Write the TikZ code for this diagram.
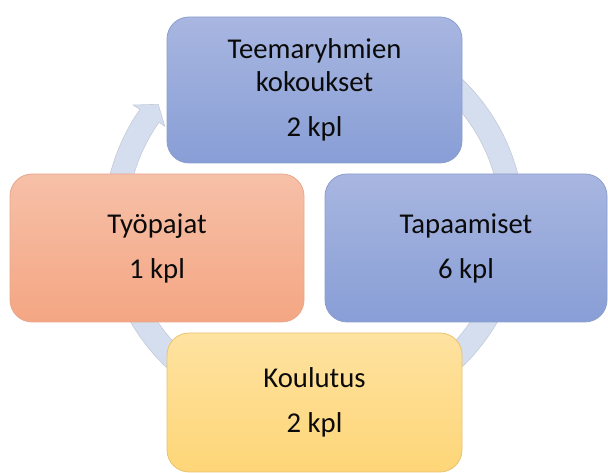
\documentclass[tikz,border=0pt]{standalone}
\usepackage{fontspec}
\setmainfont{Carlito}
\usetikzlibrary{calc}
\definecolor{ringfill}{RGB}{212,222,239}
\definecolor{ringline}{RGB}{196,203,216}
\definecolor{bluetop}{RGB}{168,182,224}
\definecolor{bluebot}{RGB}{136,158,214}
\definecolor{blueline}{RGB}{140,158,205}
\definecolor{salmontop}{RGB}{246,192,168}
\definecolor{salmonbot}{RGB}{244,166,131}
\definecolor{salmonline}{RGB}{230,168,142}
\definecolor{yellowtop}{RGB}{254,226,160}
\definecolor{yellowbot}{RGB}{254,214,120}
\definecolor{yellowline}{RGB}{232,196,110}
\definecolor{txt}{RGB}{10,10,10}
\tikzset{
  cyclebox/.style={rectangle, rounded corners=22pt, line width=0.8pt,
    align=center, text=txt, inner sep=0pt,
    font=\fontsize{28.7}{33}\selectfont},
  bluebox/.style={cyclebox, draw=blueline, top color=bluetop, bottom color=bluebot},
  salmonbox/.style={cyclebox, draw=salmonline, top color=salmontop, bottom color=salmonbot},
  yellowbox/.style={cyclebox, draw=yellowline, top color=yellowtop, bottom color=yellowbot},
  ring/.style={fill=ringfill, draw=ringline, line width=0.6pt}
}
\begin{document}
\begin{tikzpicture}[x=1pt,y=1pt]
\useasboundingbox (0,0) rectangle (608,473);
\coordinate (c) at (314,250);
% circular arrow
\path[ring] ([shift={(100:210 and 203)}]c) arc[start angle=100, end angle=-214, x radius=210, y radius=203]
  -- ([shift={(146:218 and 211)}]c) -- ([shift={(141.7:198.5 and 191.5)}]c) -- ([shift={(146:180 and 173)}]c)
  -- ([shift={(146:187 and 180)}]c) arc[start angle=-214, end angle=100, x radius=187, y radius=180] -- cycle;
% boxes
\node[bluebox, minimum width=295pt, minimum height=146pt] (top) at (314.5,383)
  {Teemaryhmien\\kokoukset\\[12pt]2 kpl};
\node[salmonbox, minimum width=294pt, minimum height=148pt] (left) at (157,225)
  {Työpajat\\[12pt]1 kpl};
\node[bluebox, minimum width=282pt, minimum height=148pt] (right) at (466,225)
  {Tapaamiset\\[12pt]6 kpl};
\node[yellowbox, minimum width=295pt, minimum height=139pt] (bottom) at (314.5,70.5)
  {Koulutus\\[12pt]2 kpl};
\end{tikzpicture}
\end{document}
